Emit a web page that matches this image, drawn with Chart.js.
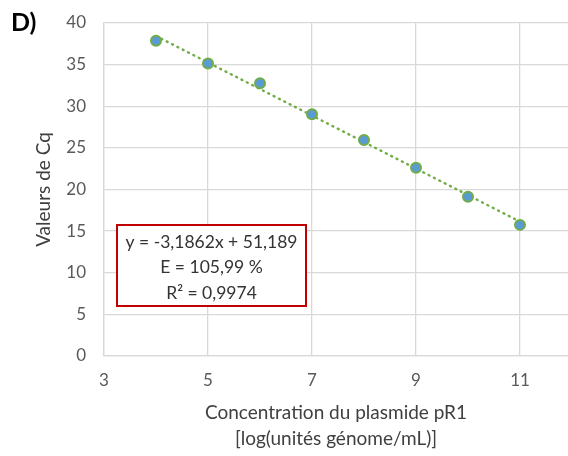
<!DOCTYPE html>
<html>
<head>
<meta charset="utf-8">
<script src="https://cdn.jsdelivr.net/npm/chart.js@4.4.0/dist/chart.umd.min.js"></script>
<style>
  html, body { margin: 0; padding: 0; background: #fff; }
  #wrap { position: relative; width: 568px; height: 456px; }
</style>
</head>
<body>
<div id="wrap"><canvas id="cq-chart"></canvas></div>
<script>
// log concentration vs Cq values
var logConc = [4, 5, 6, 7, 8, 9, 10, 11];
var cqValues = [37.87, 35.14, 32.77, 29.04, 25.94, 22.61, 19.12, 15.75];

// linear trendline end points (y = -3,1862x + 51,189)
var trendX = [4, 11];
var trendY = [38.44, 16.14];

var xTicks = [3, 5, 7, 9, 11];
var yTicks = [0, 5, 10, 15, 20, 25, 30, 35, 40];

var fitLines = ['y = -3,1862x + 51,189', 'E = 105,99 %', 'R\u00b2 = 0,9974'];
var panelLabel = 'D)';

var FONT = 'Lato, "Open Sans", sans-serif';

// text box with the equation + the panel letter
var extras = {
  id: 'extras',
  afterDraw: function (chart) {
    var ctx = chart.ctx;
    var a = chart.chartArea;
    ctx.save();
    // box
    var bx = a.left + 13, by = 225, bw = 189, bh = 81;
    ctx.fillStyle = '#fff';
    ctx.fillRect(bx, by, bw, bh);
    ctx.strokeStyle = '#C00000';
    ctx.lineWidth = 2;
    ctx.strokeRect(bx, by, bw, bh);
    ctx.fillStyle = '#333';
    ctx.font = '17.5px ' + FONT;
    ctx.textAlign = 'center';
    ctx.textBaseline = 'middle';
    for (var i = 0; i < fitLines.length; i++) {
      ctx.fillText(fitLines[i], bx + bw / 2, by + 17 + i * 25.5);
    }
    // panel letter
    ctx.fillStyle = '#000';
    ctx.font = 'bold 25px ' + FONT;
    ctx.textAlign = 'left';
    ctx.fillText(panelLabel, 11, 23);
    ctx.restore();
  }
};

var ctx = document.getElementById('cq-chart').getContext('2d');
var chart = new Chart(ctx, {
  type: 'scatter',
  data: {
    datasets: [{
      label: 'Cq',
      data: logConc.map(function (x, i) { return { x: x, y: cqValues[i] }; }),
      backgroundColor: '#5B9BD5',
      borderColor: '#70AD47',
      borderWidth: 2,
      pointRadius: 5,
      order: 0
    }, {
      label: 'Tendance',
      type: 'line',
      data: trendX.map(function (x, i) { return { x: x, y: trendY[i] }; }),
      borderColor: '#70AD47',
      borderWidth: 2.4,
      borderDash: [1, 5],
      borderCapStyle: 'round',
      pointRadius: 0,
      fill: false,
      order: 1
    }]
  },
  options: {
    responsive: true,
    maintainAspectRatio: false,
    animation: false,
    layout: { autoPadding: false, padding: { top: 23, right: 0, left: 0, bottom: 0 } },
    plugins: {
      legend: { display: false },
      tooltip: { enabled: false }
    },
    scales: {
      x: {
        type: 'linear',
        min: 3,
        max: 11.923,
        afterBuildTicks: function (scale) {
          scale.ticks = xTicks.map(function (v) { return { value: v }; });
        },
        afterFit: function (scale) {
          scale.height = 100;
          scale.paddingLeft = 0;
          scale.paddingRight = 0;
        },
        grid: { color: '#D9D9D9', lineWidth: 1.3, drawTicks: false },
        border: { color: '#D9D9D9', width: 1.3 },
        ticks: { color: '#595959', font: { family: FONT, size: 17 }, padding: 14, maxRotation: 0 },
        title: {
          display: true,
          text: ['Concentration du plasmide pR1', '[log(unités génome/mL)]'],
          color: '#404040',
          font: { family: FONT, size: 19, lineHeight: 1.37 },
          padding: { top: 0, bottom: 4 }
        }
      },
      y: {
        min: 0,
        max: 40,
        afterBuildTicks: function (scale) {
          scale.ticks = yTicks.map(function (v) { return { value: v }; });
        },
        afterFit: function (scale) {
          scale.width = 104;
          scale.paddingTop = 0;
          scale.paddingBottom = 0;
        },
        grid: { color: '#D9D9D9', lineWidth: 1.3, drawTicks: false },
        border: { color: '#D9D9D9', width: 1.3 },
        ticks: { color: '#595959', font: { family: FONT, size: 17 }, padding: 18 },
        title: {
          display: true,
          text: 'Valeurs de Cq',
          color: '#404040',
          font: { family: FONT, size: 19, lineHeight: 1.2 },
          padding: { top: 32, bottom: 0 }
        }
      }
    }
  },
  plugins: [extras]
});
</script>
</body>
</html>
